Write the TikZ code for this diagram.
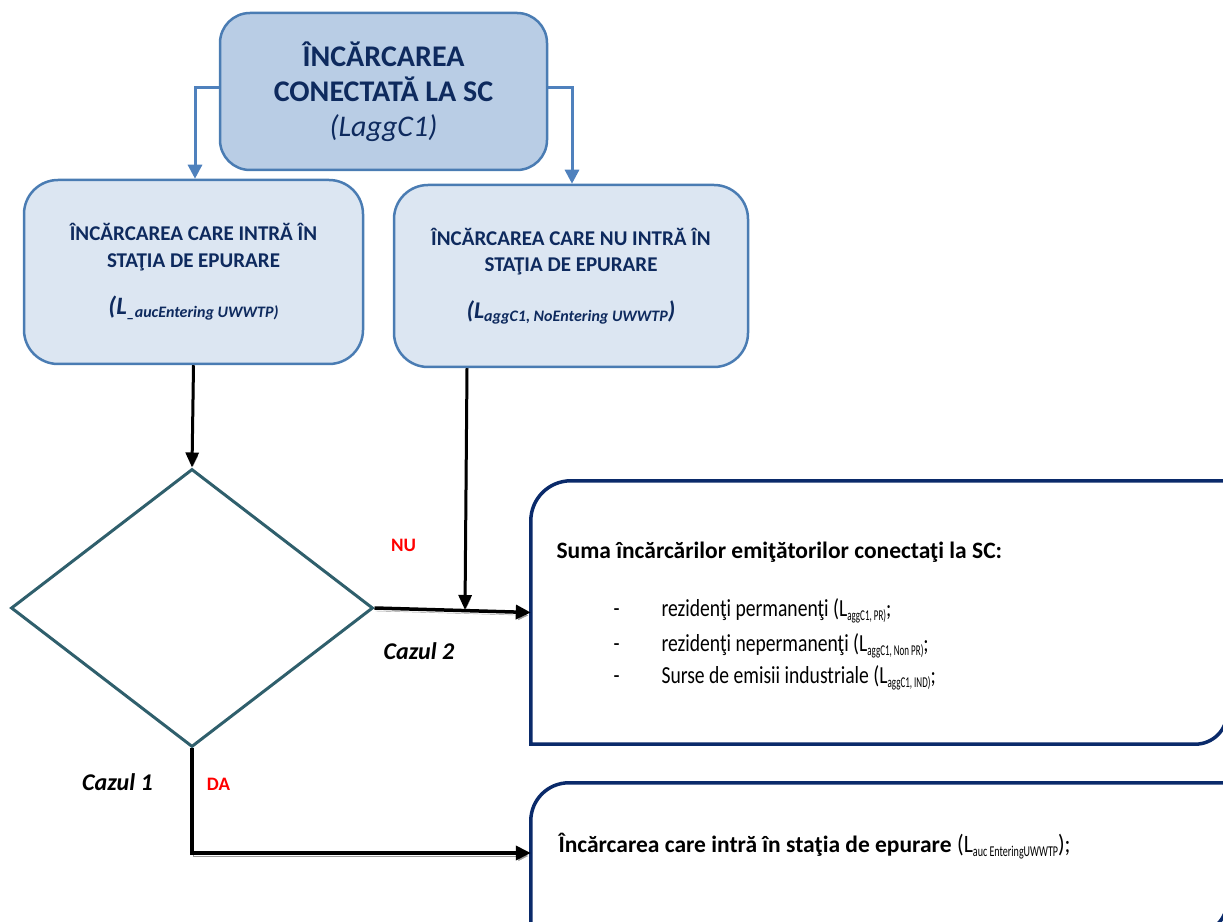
\documentclass[tikz,border=0pt]{standalone}
\usepackage{fontspec}
\usepackage{graphicx}
\setmainfont{Carlito}
\usetikzlibrary{arrows.meta,shapes.geometric}
\definecolor{navytxt}{HTML}{0E2A5E}
\definecolor{topfill}{HTML}{B9CDE5}
\definecolor{boxdraw}{HTML}{4A7CB3}
\definecolor{subfill}{HTML}{DCE6F2}
\definecolor{connblue}{HTML}{4F81BD}
\definecolor{diamcol}{HTML}{2F5F6C}
\definecolor{boxnavy}{HTML}{0A2A6A}
\definecolor{redlab}{HTML}{FF0000}
\definecolor{shadowgray}{HTML}{9A9A9A}
\newcommand{\fsz}[2]{\fontsize{#1}{#2}\selectfont}
\newcommand{\cond}[2]{\scalebox{#1}[1]{#2}}
\newcommand{\subt}[2]{\raisebox{-4pt}{\scalebox{#1}[1]{\fsz{15}{17}#2}}}
\begin{document}
\begin{tikzpicture}[x=1pt,y=1pt,
  topbox/.style={draw=boxdraw, fill=topfill, line width=2.5pt, rounded corners=30pt,
    minimum width=327pt, minimum height=157pt, align=center, text=navytxt, inner sep=0pt},
  subbox/.style={draw=boxdraw, fill=subfill, line width=2.5pt, rounded corners=34pt,
    align=center, text=navytxt, inner sep=0pt},
  bluearrow/.style={draw=connblue, line width=3pt, -{Triangle[length=14pt,width=14pt]}},
  blkthin/.style={draw=black, line width=3pt, -{Triangle[length=15pt,width=13pt]},
    preaction={draw=shadowgray, transform canvas={shift={(1pt,-2pt)}}}},
  blkthick/.style={draw=black, line width=3.5pt, -{Triangle[length=15pt,width=14pt]},
    preaction={draw=shadowgray, transform canvas={shift={(1pt,-3pt)}}}},
  navybox/.style={draw=boxnavy, line width=3.5pt},
  emptybox/.style={draw=none, inner sep=0pt},
  redlabel/.style={font=\bfseries\fsz{19}{22}, text=redlab, anchor=base},
  caselabel/.style={font=\bfseries\itshape\fsz{24}{26}, anchor=base},
  boldline/.style={font=\bfseries\fsz{23.5}{28}, anchor=base west},
  plainline/.style={font=\fsz{24.5}{30}, anchor=base west},
  bigline/.style={font=\fsz{25}{30}, anchor=base west}
]
\useasboundingbox (0,0) rectangle (1223,921);
\clip (0,0) rectangle (1223,921);

% top box
\node[topbox, font=\fsz{30}{35}] (top) at (383.5,829.5)
  {\bfseries ÎNCĂRCAREA\\\bfseries CONECTATĂ LA SC\\\mdseries\itshape (LaggC1)};

% second level boxes
\node[subbox, font=\bfseries\fsz{21}{26.5}, minimum width=339pt, minimum height=184pt] (lb) at (193.5,649)
  {ÎNCĂRCAREA CARE INTRĂ ÎN\\
   STAŢIA DE EPURARE\\[21pt]
   \itshape\fsz{25}{26.5}(L\raisebox{-3pt}{\fsz{16}{18}\_aucEntering UWWTP)}};
\node[subbox, font=\bfseries\fsz{21}{26.5}, minimum width=354pt, minimum height=182pt] (rb) at (571,645)
  {ÎNCĂRCAREA CARE NU INTRĂ ÎN\\
   STAŢIA DE EPURARE\\[20pt]
   \itshape\fsz{24}{26.5}(L\raisebox{-3pt}{\fsz{16}{18}aggC1, NoEntering UWWTP})};

% decision diamond
\node[draw=diamcol, line width=3pt, shape=diamond, aspect=1.3,
      minimum width=362pt, minimum height=278pt, inner sep=0pt] (dec) at (192,313) {};

% result boxes
\node[emptybox, minimum width=696pt, minimum height=263pt] (b3) at (879,308.5) {};
\draw[navybox] (b3.south west) -- ([yshift=-40pt]b3.north west)
  arc[start angle=180, end angle=90, radius=40pt] -- (b3.north east)
  -- ([yshift=32pt]b3.south east) arc[start angle=0, end angle=-90, radius=32pt] -- cycle;
\node[emptybox, minimum width=696pt, minimum height=150pt] (b4) at (879,63) {};
\draw[navybox] (b4.south west) -- ([yshift=-38pt]b4.north west)
  arc[start angle=180, end angle=90, radius=38pt] -- (b4.north east)
  -- ([yshift=32pt]b4.south east) arc[start angle=0, end angle=-90, radius=32pt] -- cycle;

% texts of result boxes
\node[boldline] (s0) at (553,362) {Suma încărcărilor emiţătorilor conectaţi la SC:};
\node[plainline] (d1) at (610,304) {\cond{0.8}{-}};
\node[plainline] (t1) at (658,304) {\cond{0.8}{rezidenţi permanenţi (L}\subt{0.6}{aggC1, PR)}\cond{0.8}{;}};
\node[plainline] (d2) at (610,269) {\cond{0.8}{-}};
\node[plainline] (t2) at (658,269) {\cond{0.8}{rezidenţi nepermanenţi (L}\subt{0.6}{aggC1, Non PR)}\cond{0.8}{;}};
\node[plainline] (d3) at (610,237) {\cond{0.8}{-}};
\node[plainline] (t3) at (658,237) {\cond{0.8}{Surse de emisii industriale (L}\subt{0.6}{aggC1, IND)}\cond{0.8}{;}};
\node[bigline] (t4) at (555,69)
  {{\bfseries\fsz{23.5}{28}Încărcarea care intră în staţia de epurare} \cond{0.87}{(L}\subt{0.67}{auc EnteringUWWTP}\cond{0.87}{);}};

% labels
\node[redlabel] (nu) at (403.5,369) {NU};
\node[redlabel] (da) at (218.5,131) {DA};
\node[caselabel] (c2) at (419,261) {Cazul 2};
\node[caselabel] (c1) at (117.5,131) {Cazul 1};

% connectors
\draw[bluearrow] ([yshift=4pt]top.west) -| ([xshift=1.5pt]lb.north);
\draw[bluearrow] ([yshift=4pt]top.east) -| ([xshift=1pt]rb.north);
\draw[blkthin] (lb.south) -- (dec.north);
\coordinate (join) at (465,311);
\draw[blkthin] ([xshift=-104pt]rb.south) -- (join);
\draw[blkthick] (dec.east) -- (b3.west);
\draw[blkthick] (dec.south) |- ([yshift=5pt]b4.west);
\end{tikzpicture}
\end{document}
